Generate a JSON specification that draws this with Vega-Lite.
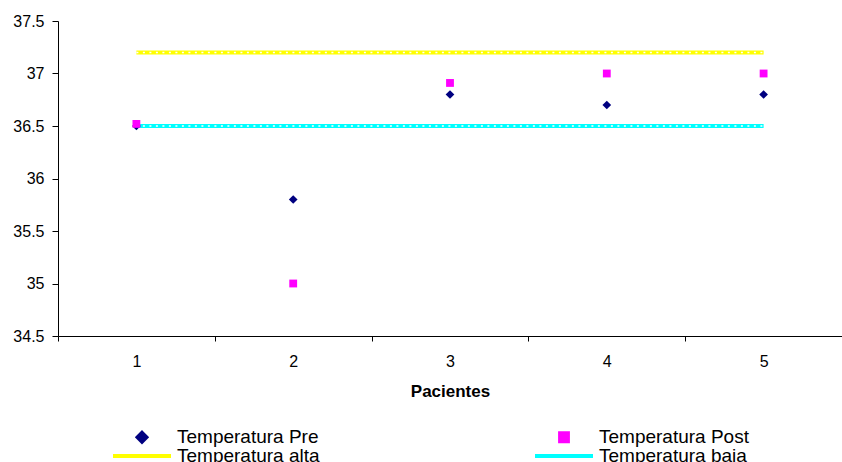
{
  "$schema": "https://vega.github.io/schema/vega-lite/v6.json",
  "width": 784,
  "height": 315,
  "autosize": "none",
  "padding": {"left": 58, "top": 21, "right": 0, "bottom": 126},
  "background": "white",
  "config": {
    "view": {"stroke": null},
    "font": "Liberation Sans",
    "axis": {
      "domainColor": "black",
      "tickColor": "black",
      "labelColor": "black",
      "titleColor": "black",
      "labelFont": "Liberation Sans",
      "titleFont": "Liberation Sans",
      "labelFontSize": 16,
      "grid": false
    }
  },
  "datasets": {
    "puntos": [
      {"paciente": 1, "serie": "Temperatura Pre", "temp": 36.5},
      {"paciente": 2, "serie": "Temperatura Pre", "temp": 35.8},
      {"paciente": 3, "serie": "Temperatura Pre", "temp": 36.8},
      {"paciente": 4, "serie": "Temperatura Pre", "temp": 36.7},
      {"paciente": 5, "serie": "Temperatura Pre", "temp": 36.8},
      {"paciente": 1, "serie": "Temperatura Post", "temp": 36.52},
      {"paciente": 2, "serie": "Temperatura Post", "temp": 35.0},
      {"paciente": 3, "serie": "Temperatura Post", "temp": 36.91},
      {"paciente": 4, "serie": "Temperatura Post", "temp": 37.0},
      {"paciente": 5, "serie": "Temperatura Post", "temp": 37.0}
    ],
    "lineas": [
      {"paciente": 1, "serie": "Temperatura alta", "temp": 37.2},
      {"paciente": 2, "serie": "Temperatura alta", "temp": 37.2},
      {"paciente": 3, "serie": "Temperatura alta", "temp": 37.2},
      {"paciente": 4, "serie": "Temperatura alta", "temp": 37.2},
      {"paciente": 5, "serie": "Temperatura alta", "temp": 37.2},
      {"paciente": 1, "serie": "Temperatura baja", "temp": 36.5},
      {"paciente": 2, "serie": "Temperatura baja", "temp": 36.5},
      {"paciente": 3, "serie": "Temperatura baja", "temp": 36.5},
      {"paciente": 4, "serie": "Temperatura baja", "temp": 36.5},
      {"paciente": 5, "serie": "Temperatura baja", "temp": 36.5}
    ]
  },
  "encoding": {
    "x": {
      "field": "paciente",
      "type": "ordinal",
      "scale": {"type": "band", "paddingInner": 0, "paddingOuter": 0},
      "axis": {
        "title": "Pacientes",
        "titleFontSize": 17,
        "titleFontWeight": "bold",
        "labelAngle": 0,
        "tickBand": "extent",
        "tickSize": 5,
        "labelPadding": 12,
        "titlePadding": 14
      }
    },
    "y": {
      "field": "temp",
      "type": "quantitative",
      "scale": {"domain": [34.5, 37.5], "nice": false, "zero": false},
      "axis": {
        "title": null,
        "values": [34.5, 35, 35.5, 36, 36.5, 37, 37.5],
        "format": "~g",
        "tickSize": 6,
        "labelPadding": 8
      }
    }
  },
  "layer": [
    {
      "data": {"name": "lineas"},
      "mark": {"type": "line", "strokeWidth": 4},
      "encoding": {
        "color": {
          "field": "serie",
          "type": "nominal",
          "scale": {
            "domain": ["Temperatura Pre", "Temperatura Post", "Temperatura alta", "Temperatura baja"],
            "range": ["#000080", "#ff00ff", "#ffff00", "#00ffff"]
          },
          "legend": {
            "title": null,
            "orient": "none",
            "legendX": 53,
            "legendY": 407.5,
            "columns": 2,
            "columnPadding": 213,
            "rowPadding": -2,
            "clipHeight": 17,
            "padding": 0,
            "symbolSize": 3364,
            "symbolStrokeWidth": 4,
            "symbolOpacity": 1,
            "symbolOffset": 0,
            "labelFontSize": 19,
            "labelFont": "Liberation Sans",
            "labelColor": "black",
            "labelOffset": 4,
            "labelLimit": 400,
            "values": ["Temperatura Pre", "Temperatura alta", "Temperatura Post", "Temperatura baja"],
            "encode": {
              "symbols": {
                "update": {
                  "shape": {"scale": "shape", "field": "value"},
                  "fill": {"scale": "color", "field": "value"},
                  "stroke": {"signal": "indexof(['Temperatura alta','Temperatura baja'], datum.value) >= 0 ? scale('color', datum.value) : 'transparent'"},
                  "opacity": {"value": 1}
                }
              }
            }
          }
        }
      }
    },
    {
      "data": {"name": "lineas"},
      "mark": {"type": "line", "strokeWidth": 1.4, "color": "white", "strokeDash": [2, 4.5]},
      "encoding": {"detail": {"field": "serie", "type": "nominal"}}
    },
    {
      "data": {"name": "puntos"},
      "mark": {"type": "point", "filled": true, "size": 3364, "opacity": 1, "strokeWidth": 0},
      "encoding": {
        "color": {"field": "serie", "type": "nominal"},
        "shape": {
          "field": "serie",
          "type": "nominal",
          "scale": {
            "domain": ["Temperatura Pre", "Temperatura Post", "Temperatura alta", "Temperatura baja"],
            "range": ["M0,-0.15L0.15,0L0,0.15L-0.15,0Z", "M-0.135,-0.135L0.135,-0.135L0.135,0.135L-0.135,0.135Z", "stroke", "stroke"]
          },
          "legend": null
        }
      }
    }
  ]
}
